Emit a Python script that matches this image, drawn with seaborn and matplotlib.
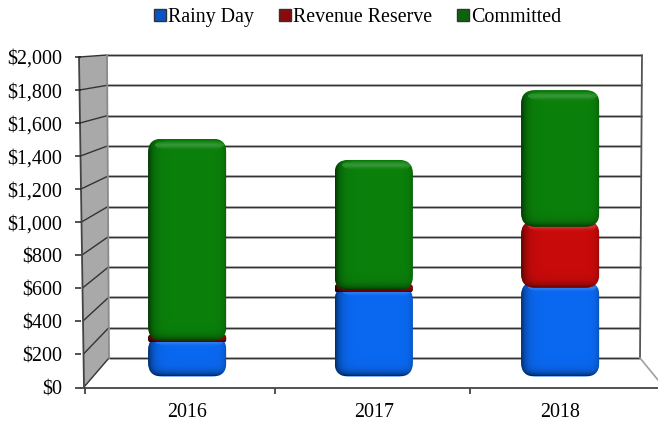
import numpy as np
import matplotlib
matplotlib.use("Agg")
import matplotlib.pyplot as plt
from matplotlib.patches import FancyBboxPatch, Polygon, Patch
import seaborn as sns

years = ["2016", "2017", "2018"]
rainy_day = [215, 530, 560]
revenue_reserve = [12, 15, 385]
committed = [1274, 822, 862]
y_ticks = list(range(0, 2001, 200))
y_tick_labels = ["$0", "$200", "$400", "$600", "$800", "$1,000", "$1,200", "$1,400", "$1,600", "$1,800", "$2,000"]
series_names = ["Rainy Day", "Revenue Reserve", "Committed"]
series_colors = ["#0A68F0", "#C80A0A", "#0A7F0A"]
swatch_colors = ["#0A55C0", "#8C0A0A", "#0A650A"]

sns.set_theme(style="white")
plt.rcParams["font.family"] = ["Liberation Serif", "DejaVu Serif"]
W, H = 658, 421
FS = 14.4
fig = plt.figure(figsize=(W / 100, H / 100), dpi=100, facecolor="white")


def add_axes_px(x0, y_top, x1, y_bottom, **kw):
    return fig.add_axes([x0 / W, 1 - y_bottom / H, (x1 - x0) / W, (y_bottom - y_top) / H], **kw)


# pixel-space layer for the 3D frame
frame = fig.add_axes([0, 0, 1, 1], zorder=0)
frame.set_xlim(0, W)
frame.set_ylim(H, 0)
frame.axis("off")

frame.add_patch(Polygon([(79, 57), (107, 55), (109, 358), (84, 387)], closed=True,
                        facecolor="#A9A9A9", edgecolor="none", zorder=1))


def lerp(a, b, t):
    return a + (b - a) * t


DARK = "#333333"
HALO = "#A0A0A0"
for v in y_ticks:
    t = v / 2000
    yf, yb = lerp(387, 57, t), lerp(358, 55, t)
    xf, xb = lerp(84, 79, t), lerp(109, 107, t)
    xr = lerp(640, 642, t)
    frame.plot([xb, xr], [yb, yb], color=HALO, lw=2.2, alpha=0.7, zorder=2, solid_capstyle="butt")
    frame.plot([xb, xr], [yb, yb], color=DARK, lw=0.9, zorder=3, solid_capstyle="butt")
    frame.plot([xf, xb], [yf, yb], color=DARK, lw=1.0, zorder=3)
frame.plot([79, 84], [57, 387], color="#444444", lw=1.3, zorder=3)
frame.plot([107, 109], [55, 358], color="#8A8A8A", lw=1.3, zorder=3)
frame.plot([642, 640], [55, 358], color="#555555", lw=1.3, zorder=3)
frame.plot([640, 658], [358, 380], color="#A0A0A0", lw=1.2, zorder=3)

# front axis: value ticks and labels
front = add_axes_px(81, 57, 664, 387.5, zorder=1)
front.patch.set_alpha(0)
front.set_ylim(0, 2000)
front.set_xlim(0, 3)
front.set_yticks(y_ticks)
front.set_yticklabels(y_tick_labels, fontsize=FS, color="black")
front.set_xticks([0.02, 1, 2])
front.set_xticklabels([])
front.tick_params(axis="y", left=True, length=4, width=1.1, pad=9.5, color="#222222")
front.tick_params(axis="x", bottom=True, length=4, width=1.1, color="#222222")
for s in ["top", "right", "left"]:
    front.spines[s].set_visible(False)
front.spines["bottom"].set_color("#444444")
front.spines["bottom"].set_linewidth(1.3)

# bars plane
main = add_axes_px(94, 59.5, 653.5, 376.5, zorder=2)
main.patch.set_alpha(0)
bottom = np.zeros(3)
for vals, col in zip([rainy_day, revenue_reserve, committed], series_colors):
    sns.barplot(x=years, y=vals, bottom=bottom, color=col, width=0.42, saturation=1, ax=main)
    bottom = bottom + np.array(vals)
main.set_xlim(-0.5, 2.5)
main.set_ylim(0, 2000)
main.set_yticks([])
main.set_ylabel("")
main.set_xlabel("")
main.tick_params(axis="x", bottom=False, length=0, pad=19, labelsize=FS, labelcolor="black")
sns.despine(ax=main, left=True, bottom=True)

OVERLAP_PX = 6
RADIUS = 14
data_per_px = 2000 / 317
for i, cont in enumerate(main.containers):
    for bar in cont:
        if i < 2:
            bar.set_height(bar.get_height() + OVERLAP_PX * data_per_px)
        bar.set_linewidth(0)
        bar.set_zorder(5 + 2 * i)
        x0, y0 = bar.get_x(), bar.get_y()
        x1, y1 = x0 + bar.get_width(), y0 + bar.get_height()
        (px0, py0), (px1, py1) = main.transData.transform([(x0, y0), (x1, y1)])
        left, right = px0, px1
        top, bot = H - py1, H - py0
        w, h = right - left, bot - top
        r = min(RADIUS, h / 2 - 0.5)
        clip = FancyBboxPatch((left + r, top + r), w - 2 * r, h - 2 * r,
                              boxstyle=f"round,pad={r}", transform=frame.transData)
        bar.set_clip_path(clip)
        # bevel shading, built per pixel of the bar
        nx, ny = int(round(w)), int(round(h))
        xx, yy = np.meshgrid(np.arange(nx) + 0.5, np.arange(ny) + 0.5)
        dark = (0.62 * np.exp(-xx / 4.5) + 0.30 * np.exp(-(nx - xx) / 3.0)
                + 0.65 * np.exp(-(ny - yy) / 3.5) + 0.15 * np.exp(-yy / 1.5))
        light = 0.18 * np.exp(-((yy - 6) / 3.0) ** 2) * (1 - np.exp(-xx / 5)) * (1 - np.exp(-(nx - xx) / 4))
        rgba = np.zeros((ny, nx, 4))
        rgba[..., :3] = (light > dark)[..., None].astype(float)
        rgba[..., 3] = np.clip(np.maximum(dark, light), 0, 0.85)
        im = main.imshow(rgba, extent=(x0, x1, y0, y1), origin="upper", aspect="auto",
                         interpolation="bilinear", zorder=6 + 2 * i)
        im.set_clip_path(clip)
main.set_xlim(-0.5, 2.5)
main.set_ylim(0, 2000)

handles = [Patch(facecolor=c, edgecolor="#333333", linewidth=1.0, label=n)
           for c, n in zip(swatch_colors, series_names)]
fig.legend(handles=handles, loc="center", bbox_to_anchor=(357.5 / W, 1 - 17.5 / H), ncol=3, frameon=False,
           fontsize=FS, handlelength=0.6, handleheight=0.6, handletextpad=0.1, columnspacing=1.25,
           borderpad=0, labelcolor="black")

fig.savefig("out.png", dpi=100, facecolor="white")
